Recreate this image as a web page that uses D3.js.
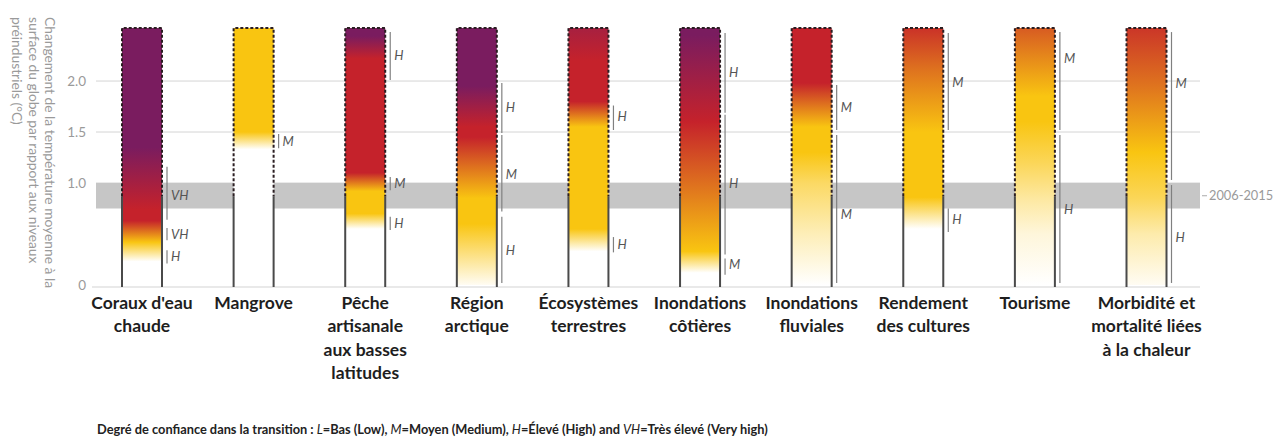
<!DOCTYPE html>
<html><head><meta charset="utf-8">
<script src="https://cdn.jsdelivr.net/npm/d3@7"></script>
<style>
html,body{margin:0;padding:0;background:#fff;}
svg{display:block;font-family:Lato,"Open Sans",sans-serif;}
</style></head>
<body>
<svg id="chart" width="1278" height="439"></svg>
<script>
// ---- data ----
const categories = ["Coraux d'eau chaude","Mangrove","Pêche artisanale aux basses latitudes","Région arctique","Écosystèmes terrestres","Inondations côtières","Inondations fluviales","Rendement des cultures","Tourisme","Morbidité et mortalité liées à la chaleur"];
const categoryLines = [["Coraux d'eau","chaude"],["Mangrove"],["Pêche","artisanale","aux basses","latitudes"],["Région","arctique"],["Écosystèmes","terrestres"],["Inondations","côtières"],["Inondations","fluviales"],["Rendement","des cultures"],["Tourisme"],["Morbidité et","mortalité liées","à la chaleur"]];
const yTicks = [0, 1.0, 1.5, 2.0];
const yTickLabels = ["0","1.0","1.5","2.0"];
const yMax = 2.52;
const presentWarming = 0.87;        // outline changes from solid to dashed
const periodBand = [0.75, 1.0];     // 2006-2015
const periodLabel = "2006-2015";
// risk level: 0 = undetectable (white), 1 = moderate (yellow), 2 = high (red), 3 = very high (purple)
const riskColors = ["#ffffff","#f9c511","#c5222b","#7a1c5f"];
// ember stops: [temperature, risk level]
const emberStops = [
  [[0,0],[0.23,0],[0.42,1],[0.63,2],[0.74,2],[1.35,3],[2.52,3]],
  [[0,0],[1.33,0],[1.5,1],[2.52,1]],
  [[0,0],[0.55,0],[0.7,1],[0.92,1],[1.1,2],[2.22,2],[2.44,3],[2.52,3]],
  [[0,0.05],[0.6,1],[0.85,1],[1.45,2],[1.55,2],[1.95,3],[2.52,3]],
  [[0,0],[0.33,0],[0.55,1],[1.55,1],[1.8,2],[2.2,2],[2.52,2.4]],
  [[0,0],[0.12,0],[0.33,1],[1.6,2],[2.45,3],[2.52,3]],
  [[0,0],[0.5,0.3],[1.0,0.65],[1.3,1],[1.55,1],[1.98,2],[2.52,2]],
  [[0,0],[0.55,0],[0.86,1],[1.5,1],[2.1,1.5],[2.52,1.9]],
  [[0,0],[0.5,0.15],[0.85,0.4],[1.2,0.7],[1.6,1],[1.85,1],[2.52,1.65]],
  [[0,0.05],[0.5,0.35],[0.85,0.7],[1.3,1],[1.95,1.5],[2.52,1.88]]
];
// confidence in transitions: [from, to, level, label position]
const confidence = [
  [[0.21,0.34,"H",0.28],[0.44,0.56,"VH",0.5],[0.64,1.16,"VH",0.88]],
  [[1.34,1.48,"M",1.41]],
  [[2.01,2.48,"H",2.25],[0.93,1.06,"M",1.0],[0.54,0.67,"H",0.6]],
  [[1.49,1.98,"H",1.74],[0.72,1.47,"M",1.08],[0.02,0.67,"H",0.34]],
  [[1.52,1.76,"H",1.65],[0.32,0.47,"H",0.4]],
  [[1.69,2.47,"H",2.08],[0.3,1.67,"H",1.0],[0.1,0.26,"M",0.2]],
  [[1.52,1.96,"M",1.74],[0.02,1.47,"M",0.69]],
  [[1.52,2.47,"M",1.99],[0.52,0.75,"H",0.64]],
  [[1.52,2.48,"M",2.22],[0.02,1.47,"H",0.74]],
  [[1.03,2.48,"M",1.98],[0.02,0.98,"H",0.47]]
];
const yTitleLines = ["Changement de la température moyenne à la","surface du globe par rapport aux niveaux","préindustriels (°C)"];
const footerParts = [["Degré de confiance dans la transition : ",false],["L",true],["=Bas (Low), ",false],["M",true],["=Moyen (Medium), ",false],["H",true],["=Élevé (High) and ",false],["VH",true],["=Très élevé (Very high)",false]];

// ---- drawing ----
const svg = d3.select("#chart");
const x = d3.scalePoint().domain(categories).range([142, 1146.5]);
const y = d3.scaleLinear().domain([0, yMax]).range([285, 28]);
const barW = 40;
const riskScale = d3.scaleLinear().domain([0,1,2,3]).range(riskColors).interpolate(d3.interpolateRgb);
const plotL = 96, plotR = 1200;

// gridlines
svg.append("g").selectAll("line").data(yTicks.filter(d => d > 0)).join("line")
  .attr("x1", plotL).attr("x2", plotR).attr("y1", d => y(d)).attr("y2", d => y(d))
  .attr("stroke", "#d4d4d4").attr("stroke-width", 1);
// baseline
svg.append("line").attr("x1", 92).attr("x2", plotR).attr("y1", y(0) + 2).attr("y2", y(0) + 2)
  .attr("stroke", "#d4d4d4").attr("stroke-width", 1.2);

// period band
svg.append("rect").attr("x", plotL).attr("width", plotR - plotL)
  .attr("y", y(periodBand[1])).attr("height", y(periodBand[0]) - y(periodBand[1]))
  .attr("fill", "#c6c6c6");
const bandMid = (y(periodBand[0]) + y(periodBand[1])) / 2;
svg.append("line").attr("x1", plotR + 2).attr("x2", plotR + 7).attr("y1", bandMid).attr("y2", bandMid)
  .attr("stroke", "#aaa").attr("stroke-width", 1);
svg.append("text").attr("x", plotR + 9).attr("y", bandMid).attr("dy", "0.35em")
  .attr("font-size", 12.8).attr("fill", "#9a9a9a").text(periodLabel);

// y tick labels
svg.append("g").selectAll("text").data(yTicks).join("text")
  .attr("x", 86).attr("y", d => y(d)).attr("dy", "0.35em").attr("text-anchor", "end")
  .attr("font-size", 13.5).attr("fill", "#9a9a9a").text((d, i) => yTickLabels[i]);

// y title (rotated)
const yt = svg.append("g").attr("transform", "translate(50,17) rotate(90)");
yTitleLines.forEach((t, i) => {
  yt.append("text").attr("x", 0).attr("y", i * 16.5).attr("dy", "0.35em")
    .attr("font-size", 13.8).attr("fill", "#9a9a9a").text(t);
});

// gradients
const defs = svg.append("defs");
categories.forEach((c, i) => {
  const g = defs.append("linearGradient").attr("id", "ember" + i)
    .attr("gradientUnits", "userSpaceOnUse")
    .attr("x1", 0).attr("x2", 0).attr("y1", y(0)).attr("y2", y(yMax));
  emberStops[i].forEach(s => {
    g.append("stop").attr("offset", s[0] / yMax).attr("stop-color", riskScale(s[1]));
  });
});

// embers
const embers = svg.append("g").selectAll("g").data(categories).join("g");
embers.append("rect")
  .attr("x", d => x(d) - barW / 2).attr("width", barW)
  .attr("y", y(yMax)).attr("height", y(0) - y(yMax))
  .attr("fill", (d, i) => `url(#ember${i})`);
// solid sides below present warming
embers.append("path")
  .attr("d", d => {
    const l = x(d) - barW / 2, r = x(d) + barW / 2;
    return `M${l},${y(0)+2}V${y(presentWarming)}M${r},${y(0)+2}V${y(presentWarming)}`;
  })
  .attr("fill", "none").attr("stroke", "#4a4a4a").attr("stroke-width", 2);
// dashed outline above
embers.append("path")
  .attr("d", d => {
    const l = x(d) - barW / 2, r = x(d) + barW / 2;
    return `M${l},${y(presentWarming)}V${y(yMax)}H${r}V${y(presentWarming)}`;
  })
  .attr("fill", "none").attr("stroke", "#2b1e22").attr("stroke-width", 2)
  .attr("stroke-dasharray", "3,2");

// confidence brackets
categories.forEach((c, i) => {
  const lx = x(c) + barW / 2 + 5;
  const g = svg.append("g");
  g.selectAll("line").data(confidence[i]).join("line")
    .attr("x1", lx).attr("x2", lx).attr("y1", d => y(d[0])).attr("y2", d => y(d[1]))
    .attr("stroke", "#808080").attr("stroke-width", 1.2);
  g.selectAll("text").data(confidence[i]).join("text")
    .attr("x", lx + 4).attr("y", d => y(d[3])).attr("dy", "0.35em")
    .attr("font-size", 13).attr("font-style", "italic").attr("fill", "#555").text(d => d[2]);
});

// category labels
const cl = svg.append("g").selectAll("text").data(categories).join("text")
  .attr("text-anchor", "middle").attr("font-size", 17.5).attr("font-weight", "bold").attr("fill", "#1e1e1e");
cl.each(function(d, i) {
  const t = d3.select(this);
  categoryLines[i].forEach((line, j) => {
    t.append("tspan").attr("x", x(d)).attr("y", 309 + j * 23.3).text(line);
  });
});

// footer
const ft = svg.append("text").attr("x", 97).attr("y", 434).attr("font-size", 12.8).attr("fill", "#222");
footerParts.forEach(p => {
  ft.append("tspan").attr("font-style", p[1] ? "italic" : "normal")
    .attr("font-weight", p[1] ? "normal" : "bold").text(p[0]);
});
</script>
</body></html>
